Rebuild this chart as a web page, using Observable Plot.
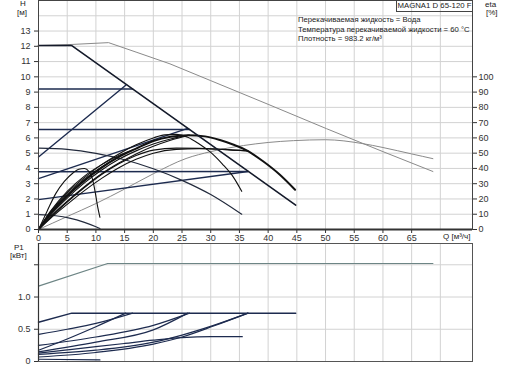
<!DOCTYPE html>
<html><head><meta charset="utf-8">
<script src="https://cdn.jsdelivr.net/npm/d3@7"></script>
<script src="https://cdn.jsdelivr.net/npm/@observablehq/plot@0.6"></script>
<style>
body{margin:0;background:#fff;}
#wrap{position:relative;width:508px;height:368px;font-family:"Liberation Sans",Arial,sans-serif;overflow:hidden;background:#fff;}
#wrap svg{position:absolute;left:0;}
.lbl{position:absolute;font-size:8px;color:#222;white-space:nowrap;line-height:1;}
.info{font-size:7.7px;}
.box{position:absolute;left:396px;top:-1px;width:75px;height:11px;border:1px solid #444;font-size:7.8px;line-height:11px;text-align:center;color:#222;white-space:nowrap;overflow:hidden;}
</style></head><body><div id="wrap"></div>
<script>
// ---- tick / grid values ----
const qTicks = [0,5,10,15,20,25,30,35,40,45,50,55,60,65];
const qGrid = [5,10,15,20,25,30,35,40,45,50,55,60,65,70];
const hTicks = [0,1,2,3,4,5,6,7,8,9,10,11,12,13];
const hGrid = [1,2,3,4,5,6,7,8,9,10,11,12,13,14,15];
const etaTicks = [0,10,20,30,40,50,60,70,80,90,100];
const pTicks = [0,0.5,1,1.5];
const pTickLabels = ["0","0.5","1.0",""];
const pGrid = [0.5,1,1.5];

// ---- H curves [Q m3/h, H m] ----
const maxH = [[0,12.05],[5.8,12.05],[44.8,1.6]];
const grayH = [[0,12.05],[5.8,12.12],[12.2,12.24],[17,11.62],[22.9,10.85],[30,9.75],[40,8.2],[50.2,6.6],[60,5.1],[68.7,3.8]];
const cp3H = [[0,9.2],[16.4,9.2]];
const pp3H = [[0,4.75],[15.2,9.45]];
const cp2H = [[0,6.55],[26.3,6.55]];
const pp2H = [[0,3.33],[26.0,6.62]];
const cp1H = [[0,3.78],[36.5,3.8]];
const pp1H = [[0,1.96],[36.5,3.8]];
const speed1H = [[0,5.33],[5,5.25],[10,4.99],[15,4.57],[20,3.98],[25,3.22],[30,2.29],[35.4,1.0]];
const minH = [[0,0.97],[3,0.9],[5.4,0.75],[8,0.47],[10,0.18],[10.7,0.06]];

// ---- eta curves [Q, %] ----
const etaMax = [[0,0],[2,10],[5,22],[8,32],[11,40.5],[14,47.5],[17,53],[20,58],[23,60.8],[26,61.8],[29,61],[31.6,58.6],[34,55.5],[36.5,51.4],[39,45],[42,36],[44.7,26]];
const etaSpeed1 = [[0,0],[2,11],[5,24],[8,34],[11,42.5],[14,49.5],[17,55.5],[20,60],[22,62],[24,62.3],[26,60.5],[28,56],[30,50.5],[32,43],[34,34],[35.4,25]];
const etaMin = [[0,0],[1.5,12],[3,23.5],[4.5,31.5],[6,37],[7,39.5],[8,40],[8.8,38],[9.4,33],[9.9,24],[10.3,15],[10.7,8]];
const etaCP3 = [[0,0],[2,11.5],[5,25],[8,35],[11,42.5],[14,48.5],[16.4,52]];
const etaPP3 = [[0,0],[2,10.5],[5,23],[8,33],[11,41],[13,45.5],[15.2,50]];
const etaCP2 = [[0,0],[2,9],[5,20.5],[8,30.5],[11,39],[14,46],[17,51.5],[20,56],[23,59.3],[26.3,61.8]];
const etaPP2 = [[0,0],[2,8],[5,18.5],[8,28],[11,36.5],[14,43.5],[17,49.5],[20,54.5],[23,58.5],[26,61.6]];
const etaCP1 = [[0,0],[2,7.5],[5,18],[8,27.5],[11,36],[14,43],[17,48.5],[20,52],[24,53.3],[28,53.2],[32,52.5],[36.5,51.4]];
const etaPP1 = [[0,0],[2,7],[5,16.5],[8,25.5],[11,33.5],[14,40.5],[17,46],[20,50],[24,52.5],[28,53],[32,52.5],[36.5,51.4]];
const etaGray = [[0,0],[5,8.5],[10,17],[15,26.5],[20,36.5],[25.7,46.5],[30,51],[35.7,55],[40,57],[44.4,58.2],[50,58.8],[56.4,56.3],[60,53.7],[65,49.5],[68.7,46.4]];

// ---- P1 curves [Q, kW] ----
const pGray = [[0,1.17],[12.05,1.52],[68.7,1.52]];
const pMax = [[0,0.61],[5.8,0.75],[44.8,0.75]];
const pCP3 = [[0,0.42],[5,0.5],[10,0.59],[16.4,0.75]];
const pPP3 = [[0,0.175],[5,0.35],[10,0.54],[15.2,0.75]];
const pCP2 = [[0,0.25],[10,0.38],[20,0.56],[26.3,0.75]];
const pPP2 = [[0,0.15],[10,0.3],[20,0.49],[26,0.75]];
const pCP1 = [[0,0.11],[10,0.175],[20,0.3],[25,0.41],[30.5,0.56],[36.5,0.75]];
const pPP1 = [[0,0.07],[10,0.14],[20,0.27],[25,0.38],[30.5,0.55],[36.5,0.75]];
const pSpeed1 = [[0,0.13],[5,0.18],[10,0.23],[15,0.28],[20,0.33],[25,0.37],[30,0.385],[35.5,0.385]];
const pMin = [[0,0.035],[10.7,0.025]];

const rows = (name, pts) => pts.map(([q, v]) => ({series: name, q, v}));
const group = (obj) => Object.entries(obj).flatMap(([k, p]) => rows(k, p));

const navy = "#1d2b4f";
const font = "'Liberation Sans', Arial, sans-serif";
const W = 508, QMAX = 75.6;

const straightH = group({cp3H, pp3H, cp2H, pp2H, cp1H, pp1H});
const speedH = group({speed1H, minH});
const etaThin = group({etaSpeed1, etaMin, etaCP3, etaPP3, etaCP2, etaPP2, etaCP1, etaPP1});

const topPlot = Plot.plot({
  width: W, height: 240, marginLeft: 38, marginRight: 36, marginTop: 0, marginBottom: 11,
  x: {domain: [0, QMAX]}, y: {domain: [0, 15]},
  style: {fontFamily: font, fontSize: "9px", background: "transparent", overflow: "visible", color: "#333"},
  marks: [
    Plot.ruleX(qGrid, {stroke: "#d2d2d2"}),
    Plot.ruleY(hGrid, {stroke: "#d2d2d2"}),
    Plot.line(rows("grayH", grayH), {x: "q", y: "v", stroke: "#8a8a8a", strokeWidth: 1}),
    Plot.line(rows("etaGray", etaGray), {x: "q", y: d => d.v / 10, stroke: "#8a8a8a", strokeWidth: 1, curve: "monotone-x"}),
    Plot.line(straightH, {x: "q", y: "v", z: "series", stroke: navy, strokeWidth: 1.4}),
    Plot.line(speedH, {x: "q", y: "v", z: "series", stroke: "#222a3c", strokeWidth: 1.2, curve: "monotone-x"}),
    Plot.line(etaThin, {x: "q", y: d => d.v / 10, z: "series", stroke: "#111", strokeWidth: 1.1, curve: "monotone-x"}),
    Plot.line(rows("etaMax", etaMax), {x: "q", y: d => d.v / 10, stroke: "#111", strokeWidth: 2, curve: "monotone-x"}),
    Plot.line(rows("maxH", maxH), {x: "q", y: "v", stroke: "#141a2a", strokeWidth: 1.6}),
    Plot.frame({stroke: "#444"}),
    Plot.ruleY([0], {stroke: "#333", strokeWidth: 2}),
    Plot.axisY(hTicks, {anchor: "left", tickSize: 4, tickPadding: 4, label: null}),
    Plot.axisY(etaTicks.map(d => d / 10), {anchor: "right", tickSize: 4, tickPadding: 2, label: null, tickFormat: d => String(Math.round(d * 10))}),
    Plot.axisX(qTicks, {anchor: "bottom", tickSize: 4, tickPadding: 1, label: null})
  ]
});

const powerThin = group({pCP3, pPP3, pCP2, pPP2, pCP1, pPP1, pSpeed1, pMin});

const botPlot = Plot.plot({
  width: W, height: 128, marginLeft: 38, marginRight: 36, marginTop: 3, marginBottom: 7,
  x: {domain: [0, QMAX], axis: null}, y: {domain: [0, 1.83]},
  style: {fontFamily: font, fontSize: "9px", background: "transparent", overflow: "visible", color: "#333"},
  marks: [
    Plot.ruleX(qGrid, {stroke: "#d2d2d2"}),
    Plot.ruleY(pGrid, {stroke: "#d2d2d2"}),
    Plot.line(rows("pGray", pGray), {x: "q", y: "v", stroke: "#6d8585", strokeWidth: 1.2}),
    Plot.line(powerThin, {x: "q", y: "v", z: "series", stroke: navy, strokeWidth: 1.2, curve: "monotone-x"}),
    Plot.line(rows("pMax", pMax), {x: "q", y: "v", stroke: navy, strokeWidth: 1.5}),
    Plot.frame({stroke: "#555"}),
    Plot.ruleX([0], {stroke: "#333", strokeWidth: 1.2}),
    Plot.axisY(pTicks, {anchor: "left", tickSize: 4, tickPadding: 4, label: null, tickFormat: d => pTickLabels[pTicks.indexOf(d)]})
  ]
});

const wrap = document.getElementById("wrap");
topPlot.style.top = "0px";
botPlot.style.top = "240px";
wrap.appendChild(topPlot);
wrap.appendChild(botPlot);

const labels = [
  ["H", 20, 0, ""], ["[м]", 17, 9, ""],
  ["eta", 485, 1, ""], ["[%]", 486, 9, ""],
  ["Перекачиваемая жидкость = Вода", 298, 16, "info"],
  ["Температура перекачиваемой жидкости = 60 °C", 298, 26, "info"],
  ["Плотность = 983.2 кг/м³", 298, 35, "info"],
  ["Q [м³/ч]", 443, 233, ""],
  ["P1", 14, 244, ""], ["[кВт]", 10, 252, ""]
];
for (const [t, x, y, c] of labels) {
  const d = document.createElement("div");
  d.className = "lbl " + c; d.textContent = t;
  d.style.left = x + "px"; d.style.top = y + "px";
  wrap.appendChild(d);
}
const box = document.createElement("div");
box.className = "box"; box.textContent = "MAGNA1 D 65-120 F";
wrap.appendChild(box);
</script></body></html>
